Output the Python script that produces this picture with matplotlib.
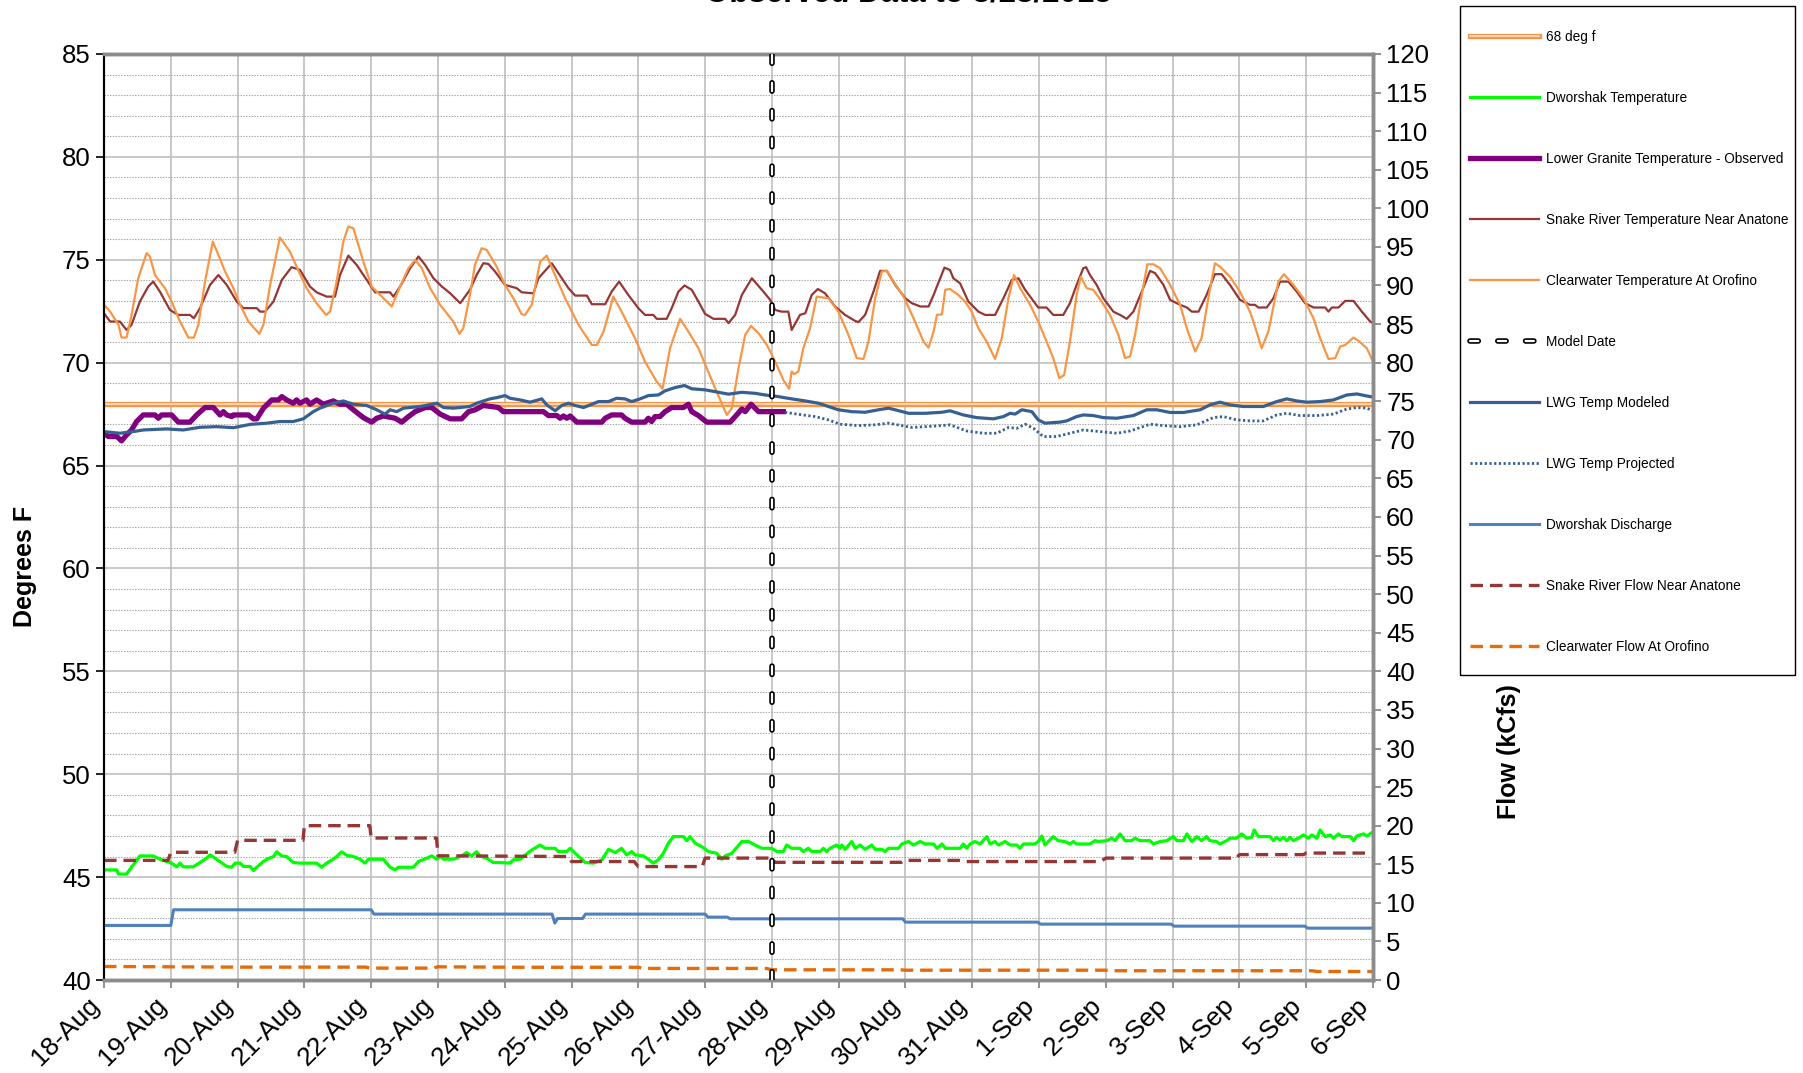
import matplotlib
matplotlib.use("Agg")
import matplotlib.pyplot as plt
import matplotlib.patheffects as pe
from matplotlib.patches import Rectangle
from matplotlib.ticker import MultipleLocator

plt.rcParams['font.family'] = ['Liberation Sans', 'DejaVu Sans']
plt.rcParams['lines.scale_dashes'] = False

# x axis: hours after 18-Aug 00:00
day_labels = ["18-Aug", "19-Aug", "20-Aug", "21-Aug", "22-Aug", "23-Aug", "24-Aug", "25-Aug",
              "26-Aug", "27-Aug", "28-Aug", "29-Aug", "30-Aug", "31-Aug", "1-Sep", "2-Sep",
              "3-Sep", "4-Sep", "5-Sep", "6-Sep"]
model_date_hr = 240
limit_temp = 68

# Dworshak Temperature (deg F)
dworshak_temp_hr = [0, 4.6, 5.2, 8.1, 12.9, 17.7, 20.1, 22.5, 24.3, 26.1, 27.3, 28.5, 32.1, 34.5, 36.9,
                    38.1, 39.9, 44.1, 45.9, 47.1, 48.9, 50.1, 52.5, 53.7, 54.9, 57.3, 58.5, 60.9, 62.1,
                    63.9, 65.6, 68, 70.4, 76.4, 78.2, 80, 82.4, 83.6, 85.4, 87.2, 89.6, 92, 93.8, 95,
                    100.4, 102.8, 104.6, 105.8, 111.2, 113, 116, 117.8, 119.6, 120.8, 122, 125.5, 128.5,
                    130.3, 132.1, 133.9, 135.1, 137.5, 139.9, 142.3, 145.9, 147.1, 149.5,
                    153.7, 156.7, 158.5, 162.1, 163.3, 166.3, 167.5, 169.3, 172.9, 175.9, 178.9, 181.3,
                    183.7, 186.0, 187.8, 189.6, 190.8, 193.8, 195.6, 197.4, 199.2, 201, 202.8, 204.6,
                    208.2, 209.4, 210.6, 212.4, 214.8, 217.2, 220.2, 222, 223.2, 225.6, 229.2, 231.6,
                    233.9, 236.4, 240, 241.8, 244.1, 245.3, 247.1, 250.1, 251.3, 253.1, 254.3, 257.3,
                    258.5, 259.7, 260.9, 263.3, 264.5, 265.1, 266.3, 268.7, 269.9, 271.7, 273.5, 275.9,
                    277.1, 279.5, 280.7, 281.9, 285.5, 286.7, 289.1, 290.9, 293.3, 295.1, 298.1, 299.3,
                    301.1, 302.3, 304, 307.6, 308.8, 310, 311.2, 313, 314.8, 317.2, 318.4, 320.2, 321.4,
                    323.8, 325.6, 328, 329.2, 330.4, 334.5, 335.7, 337, 338.1, 341.1, 342.9, 345.3,
                    347.1, 348.3, 349.5, 354.3, 356.1, 357.3, 360.3, 362.1, 363.3, 365.1, 366.9, 369.3,
                    370.5, 372.3, 375.9, 377.1, 379.5, 381.9, 384.3, 385.5, 387.9, 389.1, 390.9, 392.7,
                    394.4, 396.2, 397.4, 399.8, 401, 403.4, 404.6, 407, 408.8, 410.6, 412.4, 413.3,
                    414.8, 419, 420.2, 421.4, 422.6, 423.8, 425, 426.2, 427.4, 429.2, 431, 432.8, 434,
                    435.8, 437, 438.8, 440.6, 441.8, 443.6, 444.8, 447.8, 449, 450.2, 452.6, 453.8, 456]
dworshak_temp = [45.35, 45.35, 45.15, 45.15, 46.03, 46.03, 45.87, 45.76, 45.68, 45.5, 45.68, 45.5, 45.5,
                 45.71, 45.92, 46.08, 45.92, 45.52, 45.48, 45.68, 45.68, 45.52, 45.52, 45.32, 45.48,
                 45.76, 45.87, 46.0, 46.23, 46.03, 46.0, 45.71, 45.68, 45.68, 45.48, 45.68, 45.87, 46.0,
                 46.23, 46.06, 46.0, 45.87, 45.68, 45.87, 45.87, 45.48, 45.35, 45.48, 45.48, 45.76,
                 45.92, 46.03, 45.87, 46.03, 45.87, 45.87, 46.03, 46.19, 46.03, 46.23, 46.03, 45.92,
                 45.71, 45.71, 45.68, 45.84, 45.87,
                 46.32, 46.56, 46.4, 46.4, 46.24, 46.24, 46.4, 46.16, 45.71, 45.68, 45.84, 46.35,
                 46.19, 46.4, 46.08, 46.24, 46.08, 46.03, 45.87, 45.68, 45.84, 46.16, 46.65, 46.97,
                 46.97, 46.77, 46.97, 46.65, 46.48, 46.24, 46.16, 45.87, 46.03, 46.16, 46.73, 46.73,
                 46.56, 46.4, 46.4, 46.24, 46.24, 46.56, 46.4, 46.4, 46.24, 46.4, 46.24, 46.24,
                 46.4, 46.24, 46.4, 46.56, 46.4, 46.56, 46.35, 46.73, 46.4, 46.56, 46.35, 46.56,
                 46.35, 46.35, 46.24, 46.4, 46.4, 46.61, 46.73, 46.56, 46.73, 46.61, 46.61, 46.4,
                 46.61, 46.4, 46.4, 46.4, 46.61, 46.4, 46.61, 46.73, 46.61, 46.97, 46.61, 46.73, 46.56,
                 46.73, 46.56, 46.56, 46.4, 46.61, 46.61, 46.73, 47.0, 46.56, 46.97, 46.77, 46.73,
                 46.61, 46.73, 46.61, 46.61, 46.77, 46.73, 46.77, 46.89, 46.77, 47.1, 46.77, 46.77,
                 46.89, 46.77, 46.77, 46.61, 46.73, 46.77, 46.97, 46.77, 46.77, 47.1, 46.73, 46.97,
                 46.77, 46.97, 46.77, 46.73, 46.61, 46.77, 46.89, 46.89, 47.1, 46.89, 46.94, 47.29,
                 46.97, 46.97, 46.77, 46.93, 46.8, 46.93, 46.77, 46.93, 46.77, 46.89, 47.05, 46.89, 47.05,
                 46.89, 47.29, 46.97, 47.05, 46.89, 47.1, 46.97, 46.97, 46.77, 47.0, 47.1, 47.0, 47.2]

# Lower Granite Temperature - Observed (deg F)
lg_obs_hr = [0, 1.6, 4.6, 6.3, 8.1, 9.9, 11.7, 14.1, 18.3, 19.5, 20.7, 24.3, 26.7, 30.9, 33.3, 36.3,
             39.3, 41.7, 42.9, 44.1, 45.9, 46.5, 51.9, 53.7, 54.9, 57.3, 60.3, 62.7, 63.9, 65.6, 68,
             69.2, 70.4, 72.8, 74, 76.4, 78.8, 82.4, 84.8, 87.2, 89.6, 93.2, 96.2, 98, 100.4, 104.6,
             107, 109.4, 111.8, 115.4, 117.8, 120.8, 124.4, 128.5, 131, 133.4, 136.3, 141.7, 143.5,
             151.3, 157.9, 159.7, 162.7, 163.9, 165.1, 166.3, 167.5, 169.9, 178.9, 180.1, 182.4,
             186, 187.2, 189.6, 194.4, 195.6, 196.8, 198, 199.8, 201.6, 204, 208.2, 210, 211.2,
             213.6, 216.6, 225, 226.8, 229.2, 230.4, 232.5, 235.2, 240, 244.1]
lg_obs = [66.57, 66.41, 66.41, 66.2, 66.49, 66.73, 67.14, 67.46, 67.46, 67.3, 67.46, 67.46, 67.11,
          67.11, 67.46, 67.82, 67.82, 67.46, 67.62, 67.46, 67.38, 67.46, 67.46, 67.27, 67.27, 67.79,
          68.19, 68.19, 68.35, 68.19, 68.03, 68.19, 68.03, 68.19, 67.98, 68.19, 67.98, 68.14, 67.98,
          67.98, 67.71, 67.33, 67.11, 67.3, 67.41, 67.3, 67.11, 67.38, 67.62, 67.82, 67.82, 67.5,
          67.27, 67.27, 67.62, 67.71, 67.92, 67.82, 67.62, 67.62, 67.62, 67.43, 67.43, 67.3,
          67.41, 67.3, 67.41, 67.11, 67.11, 67.3, 67.46, 67.46, 67.3, 67.11, 67.11, 67.3, 67.14,
          67.38, 67.38, 67.62, 67.82, 67.82, 67.98, 67.62, 67.43, 67.11, 67.11, 67.38, 67.75,
          67.62, 67.98, 67.62, 67.62, 67.62]

# Snake River Temperature Near Anatone (deg F)
snake_temp_hr = [0, 2.2, 5.7, 8.1, 9.9, 12.9, 15.9, 17.7, 20.1, 23.7, 26.7, 30.9, 32.3, 34.5, 38.1,
                 41.1, 44.1, 47.7, 50.1, 54.9, 56.1, 57.9, 60.9, 63.9, 67.4, 70.4, 74, 76.4, 80, 83,
                 84.8, 87.8, 90.8, 94.4, 97.4, 102.8, 104, 106.4, 110, 113, 115.4, 118.4, 121.4,
                 124.4, 128, 131.5, 133.9, 136.3, 138.1, 140.5, 144.1, 148.3, 150.1, 154.3, 156.1,
                 160.9, 164.5, 166.9, 169.3, 173.5, 175.3, 180.1, 182.4, 185.1, 188.4, 192, 194.4,
                 197.4, 198.6, 202.2, 204, 206.4, 208.6, 211.2, 213.6, 216, 219, 223.2, 224.4, 226.8,
                 229.2, 232.8, 236.4, 239.4, 241.2, 243.5, 245.9, 247.1, 250.1, 252, 254.3, 256.5,
                 259.1, 262.7, 266.3, 269.9, 271.1, 273.5, 276.5, 278.9, 281.3, 284.3, 287.9, 290.3,
                 293.3, 296.3, 298.1, 302, 304, 305.2, 307.6, 310.6, 314.2, 316.6, 320.2, 323.2,
                 326.2, 328.6, 331, 335.7, 338.7, 341.1, 344.7, 347.1, 349.5, 351.9, 352.9, 354.3,
                 356.7, 359.1, 362.7, 365.1, 367.5, 369.9, 372.9, 375.9, 377.7, 380.7, 383.1, 386.7,
                 389.1, 390.9, 393.3, 396.2, 399.2, 401.6, 404.6, 408.2, 411.8, 413.6, 414.8, 417.8,
                 420.2, 422.6, 425.6, 428.6, 431.6, 434.6, 438.8, 440, 441.2, 443.6, 446, 449, 452,
                 455, 456]
snake_temp = [72.4, 72.0, 72.0, 71.59, 71.84, 72.97, 73.7, 73.94, 73.45, 72.56, 72.32, 72.32, 72.16,
              72.65, 73.78, 74.26, 73.78, 72.97, 72.65, 72.65, 72.48, 72.48, 72.97, 74.02, 74.64,
              74.51, 73.7, 73.42, 73.21, 73.21, 74.26, 75.2, 74.75, 74.02, 73.42, 73.42, 73.21, 73.7,
              74.59, 75.16, 74.75, 74.1, 73.7, 73.37, 72.89, 73.54, 74.26, 74.83, 74.8, 74.43,
              73.78, 73.62, 73.42, 73.37, 74.1, 74.83, 74.1, 73.62, 73.26, 73.26, 72.84, 72.84,
              73.45, 73.94, 73.29, 72.65, 72.32, 72.32, 72.13, 72.13, 72.65, 73.45, 73.75, 73.54,
              72.97, 72.37, 72.13, 72.13, 71.92, 72.32, 73.29, 74.1, 73.54, 73.05, 72.56, 72.48,
              72.48, 71.59, 72.32, 72.4, 73.29, 73.58, 73.37, 72.73, 72.32, 72.03, 71.97, 72.32,
              73.45, 74.46, 74.46, 73.78, 73.13, 72.89, 72.73, 72.73, 73.29, 74.62, 74.5, 74.1,
              73.86, 72.97, 72.48, 72.32, 72.32, 73.13, 74.02, 74.1, 73.54, 72.68, 72.68, 72.32,
              72.32, 72.89, 73.78, 74.59, 74.64, 74.26, 73.78, 73.13, 72.48, 72.32, 72.13, 72.48,
              73.45, 74.46, 74.35, 73.78, 73.05, 72.81, 72.68, 72.48, 72.48, 73.29, 74.3, 74.3,
              73.78, 73.05, 72.81, 72.81, 72.68, 72.68, 73.13, 73.94, 73.94, 73.45, 72.89, 72.68,
              72.68, 72.48, 72.68, 72.68, 73.0, 73.0, 72.48, 72.0, 71.92]

# Clearwater Temperature At Orofino (deg F)
clear_temp_hr = [0, 2.2, 5.2, 6.3, 8.1, 9.9, 12.3, 15.3, 16.5, 18.3, 21.9, 24.3, 27.3, 30.3, 32.3,
                 33.9, 36.3, 39.1, 41.1, 43.5, 46.5, 48.9, 51.9, 55.8, 57.3, 59.7, 63.2, 66.8, 69.2,
                 72.8, 76.4, 79.8, 81.2, 83.6, 86, 87.8, 89.6, 93.2, 96.2, 100.4, 103.4, 106.4, 109.4,
                 111.8, 114.2, 117.2, 120.8, 125.5, 127.7, 129.1, 131.5, 133.3, 135.7, 137.5, 141.1,
                 144.1, 147.1, 150.1, 151.3, 153.7, 156.7, 159.1, 161.5, 165.7, 170.5, 175.3, 177.1,
                 179.5, 181.2, 183.0, 186.0, 190.8, 194.4, 198.6, 200.7, 203.4, 207.0, 210.0, 213.6,
                 216.6, 219.6, 223.8, 225.6, 228.0, 230.4, 232.5, 235.2, 238.2, 241.2, 244.1, 246.2,
                 247.1, 248.0, 249.5, 251.3, 253.7, 256.1, 260.3, 263.9, 267.5, 270.5, 272.9, 274.7,
                 277.1, 279.5, 281.3, 283.7, 287.3, 290.9, 294.5, 296.3, 298.1, 299.3, 301.1, 302.3,
                 304, 307, 309.4, 311.8, 314.2, 317.2, 320.2, 322.6, 325, 327, 329.2, 332.8, 335.7,
                 338.7, 341.1, 343.3, 345, 347.1, 349.5, 351, 353.1, 355.5, 358.5, 361.5, 364.5,
                 366.9, 368.7, 370.5, 372.9, 374.9, 377.1, 379.5, 383.1, 386.7, 389.1, 392.1, 394.4,
                 396.8, 399.2, 401, 404.6, 408.2, 411.8, 413.6, 416, 418.4, 422, 424, 427.4, 431,
                 434.6, 437, 440, 442.4, 444.2, 446, 449, 450.8, 453.8, 456]
clear_temp = [72.81, 72.48, 71.84, 71.22, 71.22, 72.32, 74.1, 75.32, 75.16, 74.26, 73.62, 72.97, 72.0,
              71.22, 71.22, 71.84, 73.94, 75.88, 75.24, 74.43, 73.62, 72.81, 72.0, 71.4, 71.84, 73.78,
              76.08, 75.4, 74.67, 73.62, 72.89, 72.32, 72.48, 73.94, 75.88, 76.61, 76.53, 74.91,
              73.7, 73.13, 72.73, 73.7, 74.59, 74.99, 74.59, 73.62, 72.81, 72.0, 71.4, 71.67,
              73.29, 74.75, 75.56, 75.48, 74.67, 73.78, 73.13, 72.35, 72.32, 72.81, 74.91, 75.2,
              74.43, 73.13, 71.84, 70.86, 70.86, 71.51, 72.32, 73.21, 72.48, 71.19, 70.05, 69.08,
              68.73, 70.7, 72.13, 71.51, 70.7, 69.73, 68.76, 67.46, 67.79, 69.73, 71.35, 71.79,
              71.43, 70.86, 70.05, 69.16, 68.73, 69.57, 69.44, 69.57, 70.7, 71.67, 73.21, 73.13,
              72.48, 71.35, 70.22, 70.18, 71.02, 73.13, 74.43, 74.46, 73.94, 73.21, 72.16, 71.02,
              70.73, 71.51, 72.32, 72.35, 73.54, 73.58, 73.29, 72.97, 72.48, 71.67, 71.02, 70.18,
              71.19, 73.13, 74.26, 73.62, 72.81, 72.0, 71.02, 70.22, 69.24, 69.4, 71.02, 73.29,
              74.18, 73.62, 73.54, 72.97, 72.32, 71.35, 70.22, 70.3, 71.35, 73.29, 74.78, 74.78,
              74.59, 73.78, 72.81, 71.67, 70.54, 71.19, 73.13, 74.83, 74.67, 74.18, 73.45, 72.48,
              71.75, 70.7, 71.51, 73.94, 74.3, 73.78, 73.13, 72.16, 71.19, 70.18, 70.22, 70.78,
              70.86, 71.22, 71.06, 70.7, 70.05]

# LWG Temp Modeled (deg F)
lwg_mod_hr = [0, 5.7, 10.5, 14.1, 22.5, 28.5, 34.5, 40.5, 46.5, 52.5, 58.5, 63.2, 68, 71.6, 75.2,
              77.6, 82.4, 86, 89.6, 94.4, 98, 101, 102.8, 105.2, 107.6, 110, 113.6, 116.6, 119.6,
              122, 125.5, 131.5, 133.9, 138.7, 141.1, 144.1, 145.9, 149.5, 153.1, 157.3, 159.1,
              162.1, 164.5, 166.9, 169.3, 172.3, 175.3, 177.7, 181.3, 184.2, 187.2, 189.6, 192.6,
              195.6, 199.2, 201.6, 205.2, 208.6, 211.2, 216, 220.8, 224.4, 229.2, 234, 237.6,
              242.3, 247.1, 252, 256.7, 260.3, 263.9, 268.7, 273.5, 278.3, 281.9, 284.3, 289.1,
              295.1, 301.1, 304, 308.8, 313.6, 319.6, 323.2, 325.6, 327.4, 329.8, 333.4, 335.7,
              338.1, 343.5, 345.9, 349.5, 351.9, 355.5, 359.1, 363.9, 369.9, 374.7, 378.3, 383.1,
              387.9, 393.9, 397.4, 401, 404.6, 409.4, 416.6, 421.4, 425, 428.6, 432.2, 437, 441.8,
              446.6, 450.2, 453.8, 456]
lwg_mod = [66.65, 66.57, 66.65, 66.73, 66.78, 66.73, 66.86, 66.89, 66.84, 67.0, 67.06, 67.14, 67.14,
           67.27, 67.62, 67.79, 68.03, 68.14, 67.98, 67.92, 67.71, 67.5, 67.71, 67.62, 67.79, 67.82,
           67.87, 67.95, 68.03, 67.82, 67.79, 67.87, 68.03, 68.24, 68.3, 68.4, 68.27, 68.19,
           68.08, 68.24, 67.95, 67.66, 67.92, 68.03, 67.92, 67.82, 67.98, 68.11, 68.11, 68.27,
           68.24, 68.11, 68.24, 68.4, 68.43, 68.63, 68.79, 68.89, 68.73, 68.68, 68.56, 68.47,
           68.56, 68.51, 68.43, 68.35, 68.24, 68.14, 68.03, 67.87, 67.71, 67.62, 67.59, 67.71,
           67.79, 67.71, 67.54, 67.54, 67.59, 67.66, 67.46, 67.33, 67.27, 67.38, 67.54, 67.5,
           67.71, 67.62, 67.22, 67.06, 67.11, 67.17, 67.38, 67.46, 67.43, 67.33, 67.3, 67.43,
           67.71, 67.71, 67.58, 67.58, 67.71, 67.95, 68.08, 67.95, 67.87, 67.87, 68.11, 68.24,
           68.14, 68.08, 68.11, 68.19, 68.43, 68.48, 68.38, 68.33]

# LWG Temp Projected (deg F)
lwg_proj_hr = [244.7, 249.5, 255.5, 260.3, 264.5, 271.1, 277.1, 281.9, 286.7, 290.3, 295.1, 301.1,
               304, 310, 316, 320.8, 325, 328, 331, 334, 337.5, 342.3, 347.1, 351.9, 357.9, 363.9,
               368.7, 375.9, 380.7, 386.7, 392.7, 398.6, 402.2, 407, 411.8, 416.6, 421.4, 425,
               429.8, 435.8, 441.8, 446.6, 450.2, 453.8, 456]
lwg_proj = [67.59, 67.49, 67.38, 67.22, 67.01, 66.94, 66.98, 67.06, 66.94, 66.85, 66.89, 66.94,
            66.98, 66.68, 66.57, 66.57, 66.85, 66.81, 67.01, 66.81, 66.41, 66.41, 66.57, 66.73,
            66.65, 66.57, 66.68, 67.01, 66.94, 66.89, 66.98, 67.33, 67.38, 67.22, 67.17, 67.17,
            67.46, 67.54, 67.43, 67.43, 67.5, 67.75, 67.82, 67.79, 67.66]

# Flows (kcfs)
dworshak_q_hr = [0, 24, 25, 96, 97, 161, 162, 163, 172, 173, 216, 217, 224, 225, 287, 288, 335.5,
                 336.5, 383.5, 384.5, 431.5, 432.5, 456]
dworshak_q = [7.07, 7.07, 9.1, 9.1, 8.54, 8.54, 7.37, 7.97, 7.97, 8.54, 8.54, 8.15, 8.15, 7.93, 7.93,
              7.5, 7.5, 7.24, 7.24, 6.98, 6.98, 6.72, 6.72]
snake_q_hr = [0, 23, 24, 47, 48, 71.5, 72, 95.5, 96, 119.5, 120, 167, 168, 190.5, 192, 215, 216,
              240, 241, 286.5, 287.5, 308, 309, 358, 360, 407, 408, 431, 432, 456]
snake_q = [15.5, 15.5, 16.55, 16.55, 18.1, 18.1, 20.0, 20.0, 18.4, 18.4, 16.1, 16.0, 15.35, 15.35,
           14.7, 14.7, 15.8, 15.8, 15.25, 15.25, 15.5, 15.5, 15.35, 15.35, 15.8, 15.8, 16.25, 16.25,
           16.45, 16.45]
clear_q_hr = [0, 48, 94, 96, 118, 120, 150, 192, 194, 238, 240, 286, 288, 360, 362, 434, 436, 456]
clear_q = [1.75, 1.67, 1.67, 1.54, 1.54, 1.71, 1.65, 1.65, 1.5, 1.5, 1.32, 1.32, 1.27, 1.27, 1.2,
           1.2, 1.1, 1.1]

W, H = 1803, 1073
fig = plt.figure(figsize=(W / 100, H / 100), dpi=100)
ax = fig.add_axes([104 / W, 1 - 980 / H, 1269 / W, 926 / H])
ax2 = ax.twinx()

grid_col = '#BFBFBF'
ax.set_xlim(0, 456)
ax.set_ylim(40, 85)
ax2.set_ylim(0, 120)
ax.set_xticks([24 * i for i in range(len(day_labels))])
ax.set_xticklabels(day_labels, rotation=45, ha='right', fontsize=19)
ax.yaxis.set_major_locator(MultipleLocator(5))
ax.yaxis.set_minor_locator(MultipleLocator(1))
ax2.yaxis.set_major_locator(MultipleLocator(5))
ax.grid(which='major', color=grid_col, lw=1.2)
ax.grid(which='minor', axis='y', color='#A6A6A6', lw=0.8, ls=(0, (1, 1)))
ax.set_axisbelow(True)
ax.tick_params(axis='y', which='major', labelsize=18.5, length=6, width=1.2, color='black')
ax.tick_params(axis='x', length=6, width=1.2, color='#808080')
ax.tick_params(which='minor', length=0)
ax2.tick_params(axis='y', labelsize=18.5, length=6, width=1.2, color='#808080')

for a in (ax, ax2):
    for s in ('top', 'bottom', 'right'):
        a.spines[s].set_color('#8C8C8C')
        a.spines[s].set_linewidth(2.5)
    a.spines['left'].set_color('black')
    a.spines['left'].set_linewidth(1.5)

# temperature series
h68, = ax.plot([0, 456], [limit_temp, limit_temp], color='#FDE9D9', lw=1.1, label='68 deg f',
               path_effects=[pe.Stroke(linewidth=3.8, foreground='#F79646'), pe.Normal()])
hdw, = ax.plot(dworshak_temp_hr, dworshak_temp, color='#00FF00', lw=2.3, label='Dworshak Temperature')
hlg, = ax.plot(lg_obs_hr, lg_obs, color='#800080', lw=3.8, label='Lower Granite Temperature - Observed')
hsn, = ax.plot(snake_temp_hr, snake_temp, color='#953735', lw=1.6,
               label='Snake River Temperature Near Anatone')
hcw, = ax.plot(clear_temp_hr, clear_temp, color='#F79646', lw=1.6,
               label='Clearwater Temperature At Orofino')
hlm, = ax.plot(lwg_mod_hr, lwg_mod, color='#376092', lw=2.3, label='LWG Temp Modeled')
hlp, = ax.plot(lwg_proj_hr, lwg_proj, color='#376092', lw=2.0, dashes=(1.6, 1.8),
               label='LWG Temp Projected')

# flow series
hdq, = ax2.plot(dworshak_q_hr, dworshak_q, color='#4F81BD', lw=2.2, label='Dworshak Discharge')
hsq, = ax2.plot(snake_q_hr, snake_q, color='#953735', lw=2.4, dashes=(9, 5),
                label='Snake River Flow Near Anatone')
hcq, = ax2.plot(clear_q_hr, clear_q, color='#E46C0A', lw=2.4, dashes=(9, 5),
                label='Clearwater Flow At Orofino')
hmd = ax2.axvline(model_date_hr, color='white', lw=1.6, dashes=(6, 14), dash_capstyle='round',
                  label='Model Date', zorder=5,
                  path_effects=[pe.Stroke(linewidth=4.0, foreground='black'), pe.Normal()])

fig.text(908 / W, 1 - 2 / H, 'Observed Data to 8/28/2015', ha='center', va='baseline',
         fontsize=22.5, fontweight='bold')
fig.text(25 / W, 1 - 566 / H, 'Degrees F', rotation=90, ha='center', va='center',
         fontsize=18, fontweight='bold')
fig.text(1509 / W, 1 - 752 / H, 'Flow (kCfs)', rotation=90, ha='center', va='center',
         fontsize=18, fontweight='bold')

handles = [h68, hdw, hlg, hsn, hcw, hmd, hlm, hlp, hdq, hsq, hcq]
fig.legend(handles, [h.get_label() for h in handles], loc='upper left',
           bbox_to_anchor=(1470 / W, 1 - 30 / H), frameon=False, fontsize=9.8,
           handlelength=5.1, handletextpad=0.5, labelspacing=3.45, borderpad=0, borderaxespad=0)
fig.add_artist(Rectangle((1460 / W, 1 - 675 / H), 335 / W, 669 / H, transform=fig.transFigure,
                         fill=False, edgecolor='black', lw=1))

fig.savefig('out.png', dpi=100, facecolor='white')
